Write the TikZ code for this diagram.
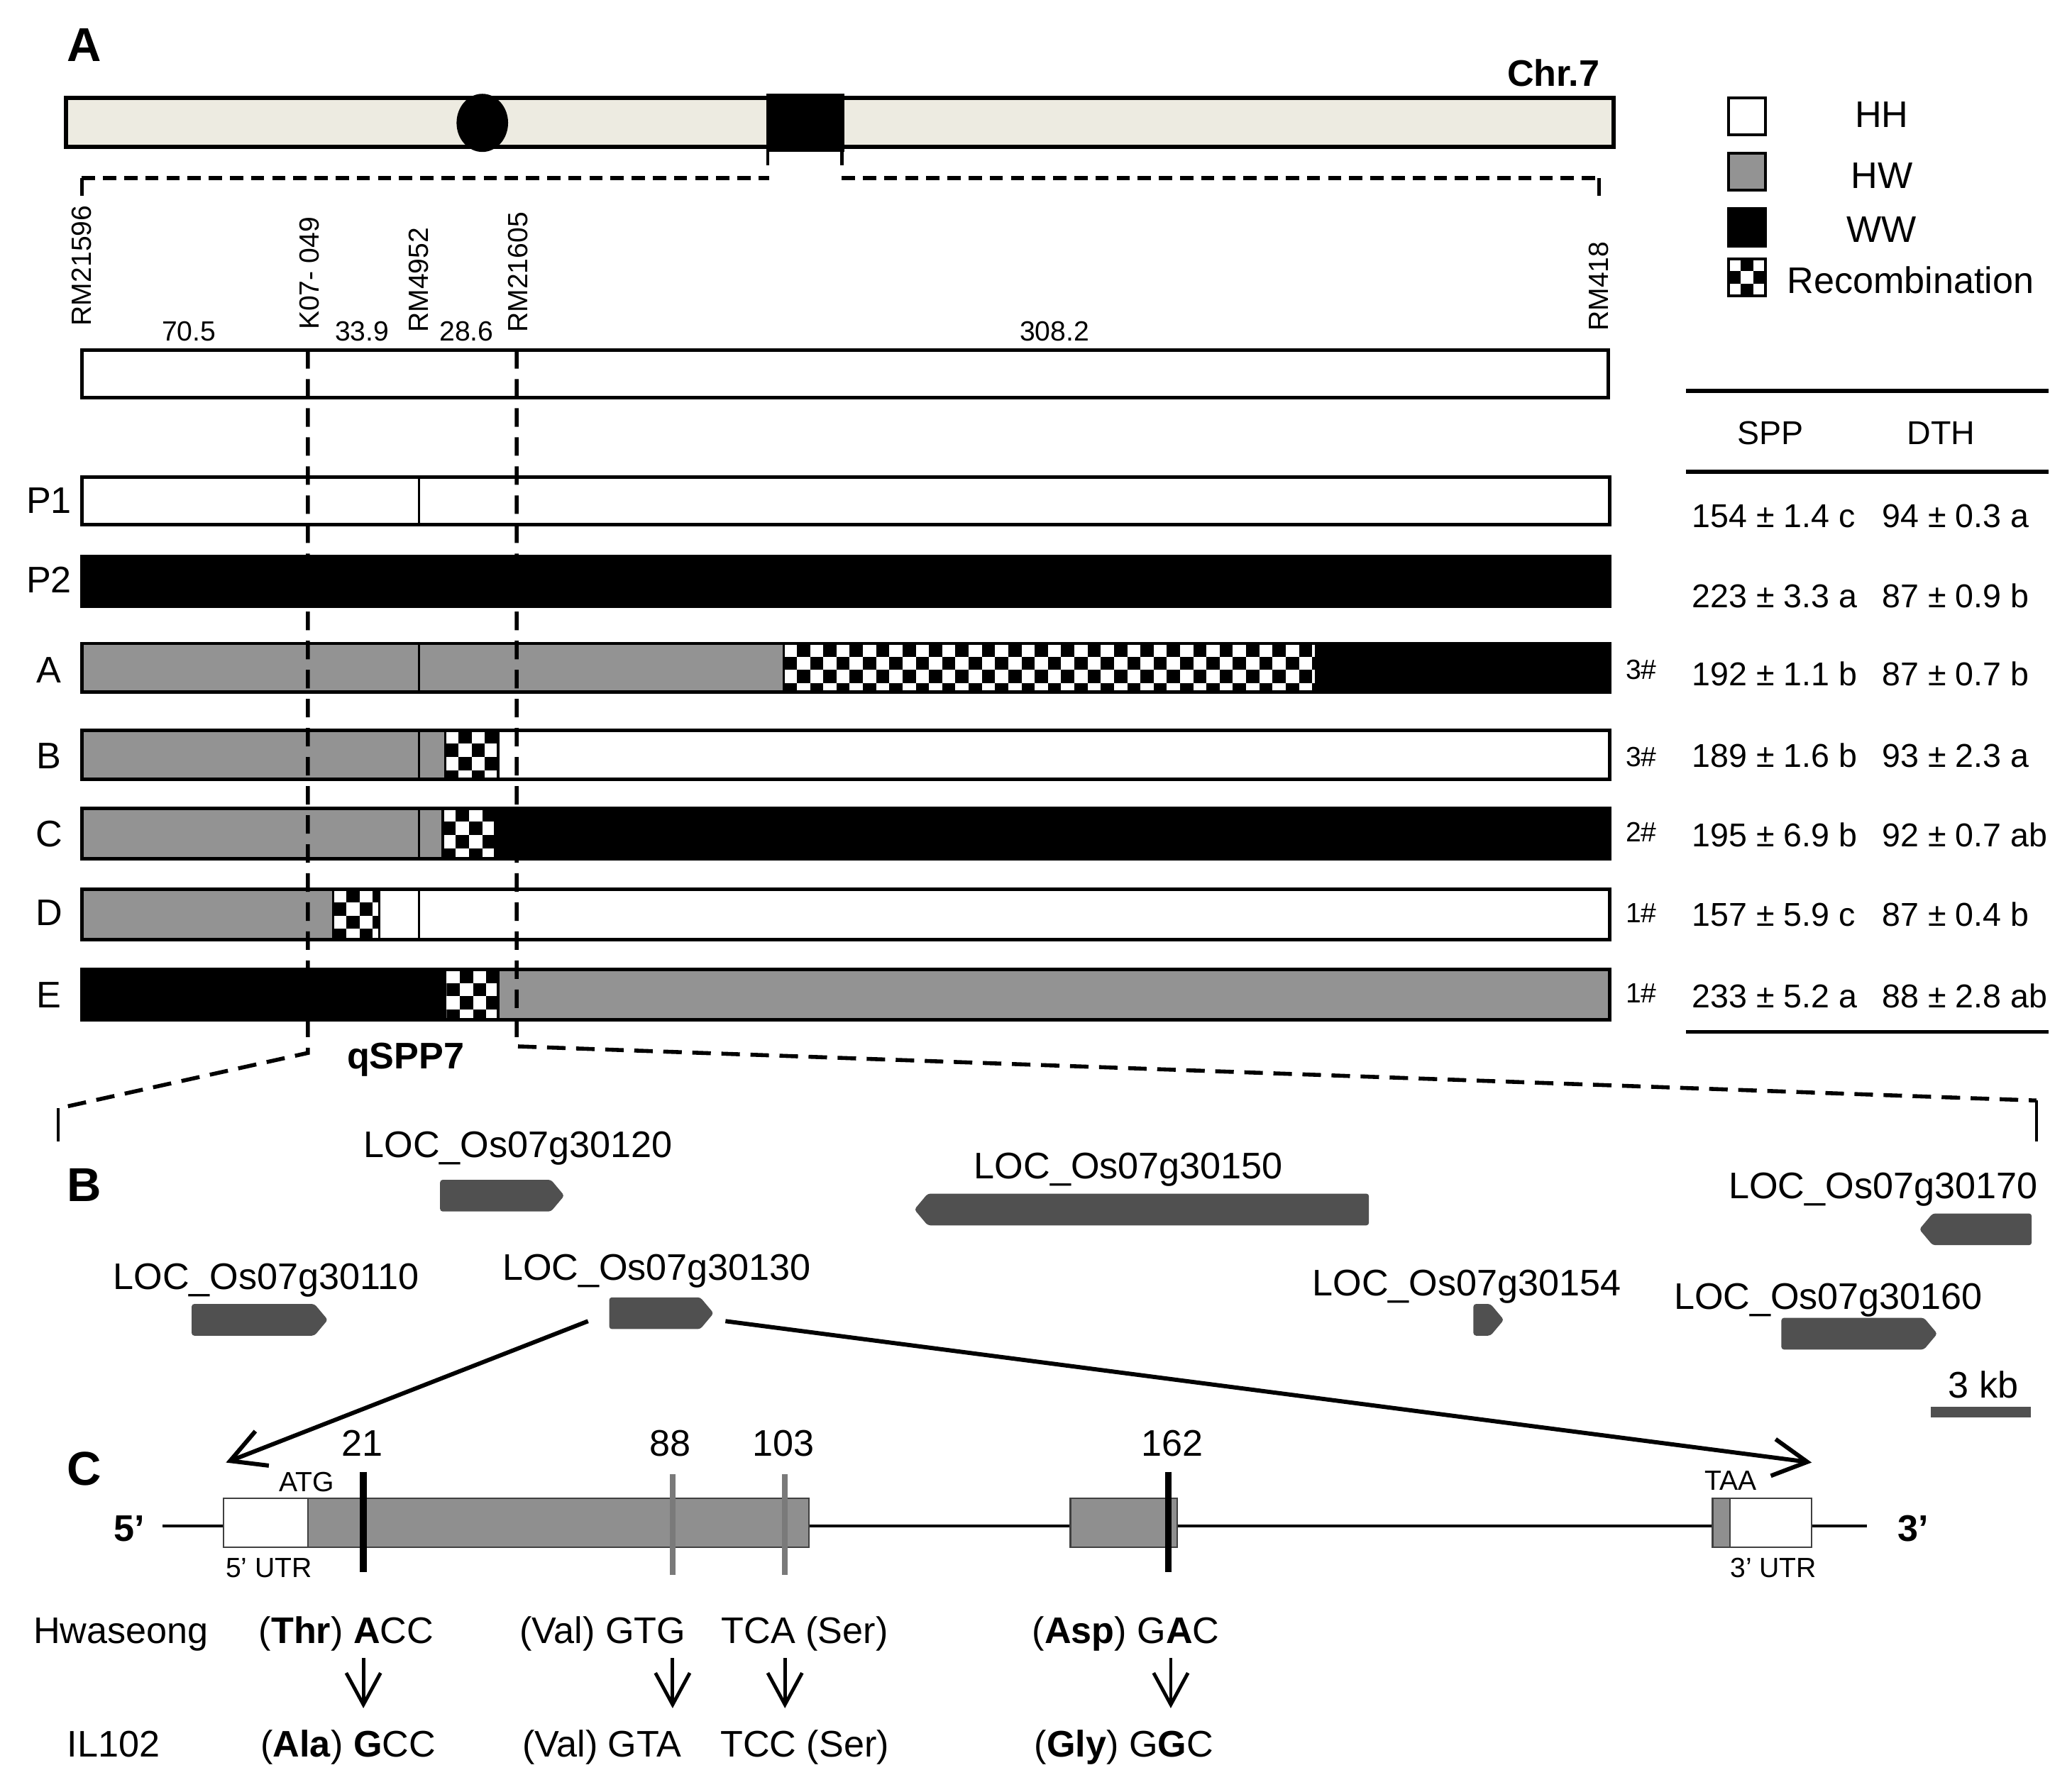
\documentclass[tikz,border=0pt]{standalone}
\usepackage{fontspec}
\setmainfont{Liberation Sans}
\usetikzlibrary{arrows.meta,shapes.symbols}

\definecolor{chromfill}{HTML}{EDEBE1}
\definecolor{hwgray}{HTML}{939393}
\definecolor{genegray}{HTML}{505050}
\definecolor{exongray}{HTML}{8F8F8F}
\definecolor{snpgray}{HTML}{7A7A7A}

\newcommand{\fsz}[1]{\fontsize{#1}{#1}\selectfont}
% checkered block for the recombination segments: x1,y1,x2,y2,cell
\newcommand{\recomb}[5]{%
  \begin{scope}
    \clip (#1,#2) rectangle (#3,#4);
    \fill[white] (#1,#2) rectangle (#3,#4);
    \pgfmathtruncatemacro{\ncol}{(#3-#1)/#5}
    \pgfmathtruncatemacro{\nrow}{(#4-#2)/#5}
    \foreach \i in {0,...,\ncol}{
      \foreach \j in {0,...,\nrow}{
        \pgfmathtruncatemacro{\odd}{mod(\i+\j,2)}
        \ifnum\odd=1 \fill (#1+\i*#5,#2+\j*#5) rectangle ++(#5,#5);\fi
      }}
  \end{scope}}

\begin{document}
\begin{tikzpicture}[x=0.5pt,y=-0.5pt,
panel/.style={font=\fsz{18}\bfseries,inner sep=0},
rowlbl/.style={font=\fsz{14},inner sep=0},
mk/.style={font=\fsz{10.5},rotate=90,anchor=west,inner sep=0},
dist/.style={font=\fsz{10.5},inner sep=0},
tab/.style={font=\fsz{12.5},anchor=base west,inner sep=0},
cnt/.style={font=\fsz{10.5},inner sep=0},
leg/.style={font=\fsz{14},inner sep=0},
loc/.style={font=\fsz{14},anchor=base,inner sep=0},
small/.style={font=\fsz{10.5},anchor=base,inner sep=0},
codon/.style={font=\fsz{14},anchor=base,inner sep=0},
gene/.style={signal,fill=genegray,draw=none,inner sep=0,minimum height=12pt,signal pointer angle=100,rounded corners=1pt},
chrom/.style={draw,fill=chromfill,line width=1.5pt},
chrbar/.style={draw,line width=1.3pt},
divider/.style={line width=0.9pt},
tick/.style={line width=1.2pt},
guide/.style={line width=1.5pt,dash pattern=on 7pt off 4pt},
brk/.style={line width=1.6pt,dash pattern=on 5pt off 3pt},
legbox/.style={draw,line width=1.2pt},
rule/.style={line width=1.5pt},
exon/.style={draw=black!75,line width=0.6pt},
zoomarrow/.style={-{Straight Barb[length=13pt,width=14pt]},line width=1.6pt},
snparrow/.style={-{Straight Barb[length=12pt,width=13pt]},line width=1.3pt}]
\useasboundingbox (0,0) rectangle (1568,1356);

%% ---------------- A: chromosome 7
\node[panel] (pA) at (64,34) {A};
\draw[chrom] (50,74) rectangle (1221,111);
\fill (365,93) ellipse [x radius=19.5,y radius=22];
\fill (580,71) rectangle (639,115);
\draw[tick] (581,113) -- (581,125) (637,113) -- (637,125);
\node[font=\fsz{14}\bfseries,anchor=east,inner sep=0] (chr) at (1211,55) {Chr.7};
\draw[tick] (62,148) -- (62,135);
\draw[brk] (62,135) -- (582,135) (637,135) -- (1210,135);
\draw[tick] (1210,135) -- (1210,148);

% markers and distances
\node[mk] (m1) at (62,247) {RM21596};
\node[mk] (m2) at (234,250) {K07- 049};
\node[mk] (m3) at (317,252) {RM4952};
\node[mk] (m4) at (392,252) {RM21605};
\node[mk] (m5) at (1210,251) {RM418};
\node[dist] (d1) at (143,251) {70.5};
\node[dist] (d2) at (274,251) {33.9};
\node[dist] (d3) at (353,251) {28.6};
\node[dist] (d4) at (798,251) {308.2};
\draw[chrbar] (62,265) rectangle (1217,301);

% genotypes
\node[rowlbl] (rP1) at (37,379) {P1};
\node[rowlbl] (rP2) at (37,439) {P2};
\node[rowlbl] (rA) at (37,507) {A};
\node[rowlbl] (rB) at (37,572) {B};
\node[rowlbl] (rC) at (37,631) {C};
\node[rowlbl] (rD) at (37,691) {D};
\node[rowlbl] (rE) at (37,753) {E};

\draw[divider] (317,361) -- (317,397);
\draw[chrbar] (62,361) rectangle (1218,397);
\filldraw[chrbar,fill=black] (62,421) rectangle (1218,459);

\fill[hwgray] (62,487) rectangle (593,524);
\recomb{593}{487}{995}{524}{10}
\fill (995,487) rectangle (1218,524);
\draw[divider] (317,487) -- (317,524) (593,487) -- (593,524);
\draw[chrbar] (62,487) rectangle (1218,524);

\fill[hwgray] (62,553) rectangle (337,590);
\recomb{337}{553}{377}{590}{10}
\draw[divider] (317,553) -- (317,590) (337,553) -- (337,590) (377,553) -- (377,590);
\draw[chrbar] (62,553) rectangle (1218,590);

\fill[hwgray] (62,612) rectangle (335,650);
\recomb{335}{612}{374}{650}{10}
\fill (374,612) rectangle (1218,650);
\draw[divider] (317,612) -- (317,650) (335,612) -- (335,650);
\draw[chrbar] (62,612) rectangle (1218,650);

\fill[hwgray] (62,673) rectangle (252,711);
\recomb{252}{673}{287}{711}{10}
\draw[divider] (252,673) -- (252,711) (287,673) -- (287,711) (317,673) -- (317,711);
\draw[chrbar] (62,673) rectangle (1218,711);

\fill (62,734) rectangle (338,772);
\recomb{338}{734}{377}{772}{10}
\fill[hwgray] (377,734) rectangle (1218,772);
\draw[divider] (377,734) -- (377,772);
\draw[chrbar] (62,734) rectangle (1218,772);

% qSPP7 interval
\draw[guide] (233,265) -- (233,797) -- (44,839);
\draw[tick] (44,839) -- (44,864);
\draw[guide] (391,265) -- (391,792) -- (1541,833);
\draw[tick] (1541,833) -- (1541,864);
\node[font=\fsz{14}\bfseries,inner sep=0] (qtl) at (307,802) {qSPP7};

% legend
\draw[legbox,fill=white] (1308,74) rectangle (1336,102);
\draw[legbox,fill=hwgray] (1308,116) rectangle (1336,144);
\draw[legbox,fill=black] (1308,158) rectangle (1336,186);
\recomb{1308}{196}{1336}{224}{9.34}
\draw[legbox] (1308,196) rectangle (1336,224);
\node[leg] (lHH) at (1424,87) {HH};
\node[leg] (lHW) at (1424,133) {HW};
\node[leg] (lWW) at (1424,174) {WW};
\node[leg,anchor=west] (lRec) at (1352,212) {Recombination};

% table
\draw[rule] (1276,296) -- (1550,296) (1276,357) -- (1550,357) (1276,781) -- (1550,781);
\node[font=\fsz{12.5},inner sep=0] (hSPP) at (1340,328) {SPP};
\node[font=\fsz{12.5},inner sep=0] (hDTH) at (1469,328) {DTH};
\node[tab] (s1) at (1280,399) {154 ± 1.4 c};  \node[tab] (t1) at (1424,399) {94 ± 0.3 a};
\node[tab] (s2) at (1280,460) {223 ± 3.3 a};  \node[tab] (t2) at (1424,460) {87 ± 0.9 b};
\node[tab] (s3) at (1280,519) {192 ± 1.1 b};  \node[tab] (t3) at (1424,519) {87 ± 0.7 b};
\node[tab] (s4) at (1280,581) {189 ± 1.6 b};  \node[tab] (t4) at (1424,581) {93 ± 2.3 a};
\node[tab] (s5) at (1280,641) {195 ± 6.9 b};  \node[tab] (t5) at (1424,641) {92 ± 0.7 ab};
\node[tab] (s6) at (1280,701) {157 ± 5.9 c};  \node[tab] (t6) at (1424,701) {87 ± 0.4 b};
\node[tab] (s7) at (1280,763) {233 ± 5.2 a};  \node[tab] (t7) at (1424,763) {88 ± 2.8 ab};
\node[cnt] (n3) at (1242,507) {3\#};
\node[cnt] (n4) at (1242,573) {3\#};
\node[cnt] (n5) at (1242,630) {2\#};
\node[cnt] (n6) at (1242,691) {1\#};
\node[cnt] (n7) at (1242,752) {1\#};

%% ---------------- B: genes in the interval
\node[panel] (pB) at (64,897) {B};
\node[gene,signal to=east,minimum width=47pt] (g120) at (375,905) {};
\node[gene,signal to=west,minimum width=172pt] (g150) at (869,915.5) {};
\node[gene,signal to=west,minimum width=42.5pt] (g170) at (1500,930.5) {};
\node[gene,signal to=east,minimum width=51.5pt] (g110) at (191.5,999) {};
\node[gene,signal to=east,minimum width=39.5pt] (g130) at (495.5,994) {};
\node[gene,signal to=east,minimum width=11.5pt] (g154) at (1121.5,999) {};
\node[gene,signal to=east,minimum width=59pt] (g160) at (1402,1009.5) {};
\node[loc] (l120) at (392,876) {LOC\_Os07g30120};
\node[loc] (l150) at (854,892) {LOC\_Os07g30150};
\node[loc] (l170) at (1425,907) {LOC\_Os07g30170};
\node[loc] (l110) at (201.5,976) {LOC\_Os07g30110};
\node[loc] (l130) at (497,969) {LOC\_Os07g30130};
\node[loc] (l154) at (1110,981) {LOC\_Os07g30154};
\node[loc] (l160) at (1383.5,991) {LOC\_Os07g30160};
\node[loc] (kb) at (1501,1058) {3 kb};
\draw[genegray,line width=4pt] (1461,1069) -- (1537,1069);

%% ---------------- C: LOC_Os07g30130 structure
\node[panel] (pC) at (64,1112) {C};
\coordinate (z5a) at (445,1000);
\coordinate (z5b) at (171,1107);
\coordinate (z3a) at (549,1000);
\coordinate (z3b) at (1371,1107);
\draw[zoomarrow] (z5a) -- (z5b);
\draw[zoomarrow] (z3a) -- (z3b);

\draw[line width=1.2pt] (123,1155) -- (1413,1155);
\draw[exon,fill=white] (169,1134) rectangle (233,1171);
\draw[exon,fill=exongray] (233,1134) rectangle (612,1171);
\draw[exon,fill=exongray] (810,1134) rectangle (891,1171);
\draw[exon,fill=exongray] (1296,1134) rectangle (1309,1171);
\draw[exon,fill=white] (1309,1134) rectangle (1371,1171);
\node[font=\fsz{14}\bfseries,inner sep=0] (p5) at (98,1157) {5’};
\node[font=\fsz{14}\bfseries,inner sep=0] (p3) at (1448,1157) {3’};
\node[small] (atg) at (232,1129) {ATG};
\node[small] (taa) at (1309.5,1128) {TAA};
\node[small] (u5) at (203.5,1194) {5’ UTR};
\node[small] (u3) at (1342,1194) {3’ UTR};

\draw[line width=2.5pt] (275,1114) -- (275,1190);
\draw[snpgray,line width=2pt] (509,1116) -- (509,1192);
\draw[snpgray,line width=2pt] (594,1116) -- (594,1192);
\draw[line width=2.5pt] (884,1114) -- (884,1190);
\node[loc] (v21) at (274,1102) {21};
\node[loc] (v88) at (507,1102) {88};
\node[loc] (v103) at (593,1102) {103};
\node[loc] (v162) at (887,1102) {162};

\node[codon] (hw) at (91.5,1244) {Hwaseong};
\node[codon] (il) at (86,1330) {IL102};
\node[codon] (c1a) at (262,1244) {(\textbf{Thr}) \textbf{A}CC};
\node[codon] (c2a) at (456,1244) {(Val) GTG};
\node[codon] (c3a) at (609,1244) {TCA (Ser)};
\node[codon] (c4a) at (852,1244) {(\textbf{Asp}) G\textbf{A}C};
\node[codon] (c1b) at (263.5,1330) {(\textbf{Ala}) \textbf{G}CC};
\node[codon] (c2b) at (455.5,1330) {(Val) GTA};
\node[codon] (c3b) at (609,1330) {TCC (Ser)};
\node[codon] (c4b) at (850.5,1330) {(\textbf{Gly}) G\textbf{G}C};
\coordinate (a1t) at (275,1255); \coordinate (a1b) at (275,1293);
\coordinate (a2t) at (509,1255); \coordinate (a2b) at (509,1293);
\coordinate (a3t) at (594,1255); \coordinate (a3b) at (594,1293);
\coordinate (a4t) at (886,1255); \coordinate (a4b) at (886,1293);
\draw[snparrow] (a1t) -- (a1b);
\draw[snparrow] (a2t) -- (a2b);
\draw[snparrow] (a3t) -- (a3b);
\draw[snparrow] (a4t) -- (a4b);
\end{tikzpicture}
\end{document}
